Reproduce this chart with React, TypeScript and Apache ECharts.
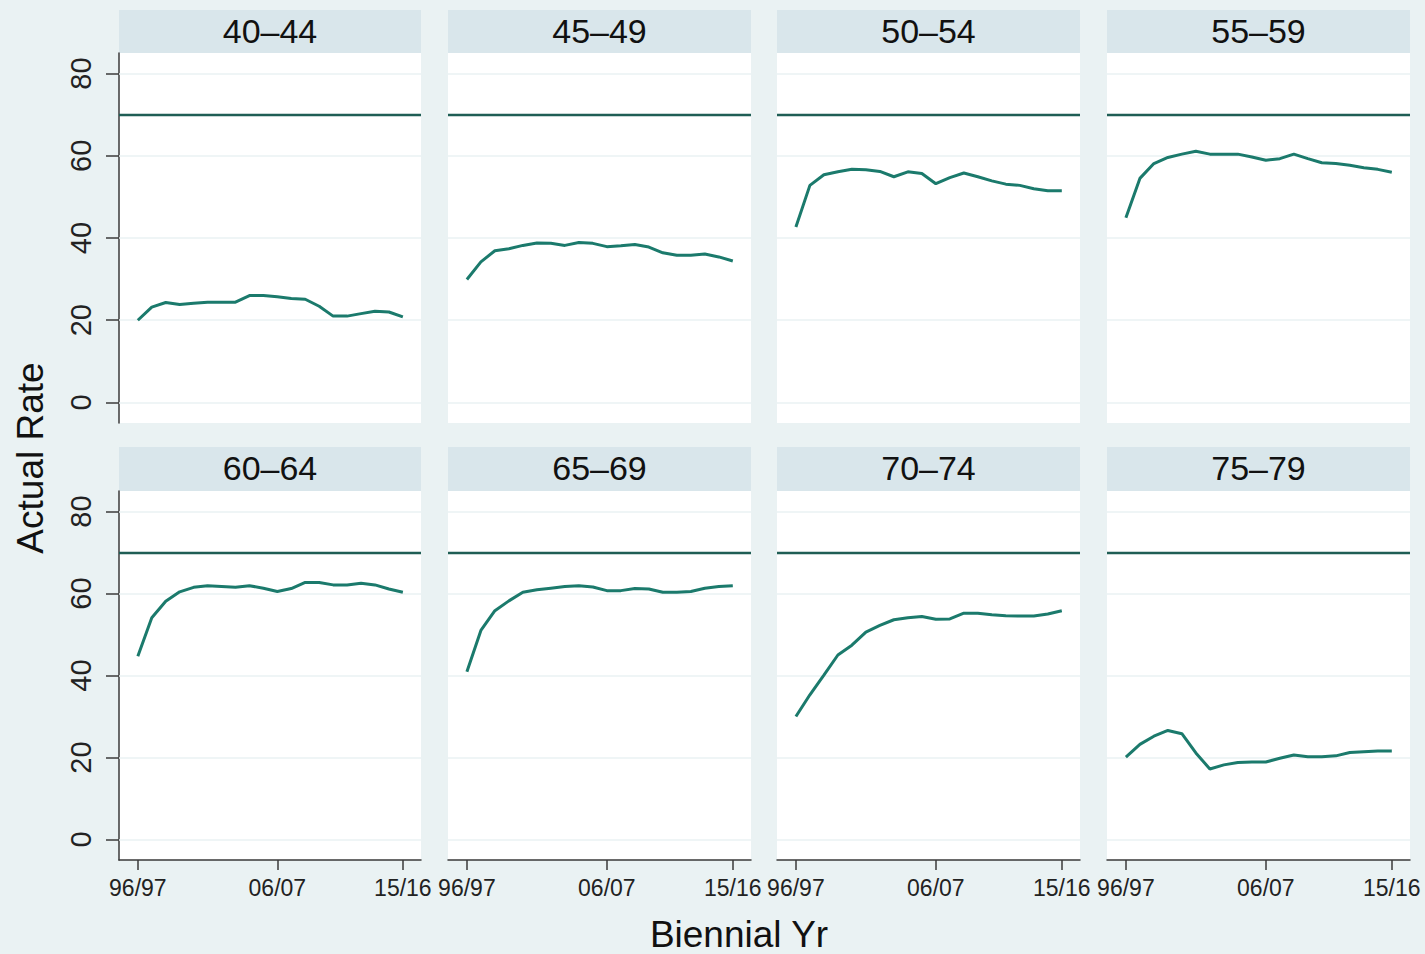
import React, { useEffect, useRef } from "react";
import * as echarts from "echarts";

const yearLabels = [
  "96/97", "97/98", "98/99", "99/00", "00/01", "01/02", "02/03", "03/04", "04/05", "05/06",
  "06/07", "07/08", "08/09", "09/10", "10/11", "11/12", "12/13", "13/14", "14/15", "15/16",
];
const xTickIndex = [0, 10, 19];
const yTicks = [0, 20, 40, 60, 80];
const referenceRate = 70;

const panelTitles = ["40–44", "45–49", "50–54", "55–59", "60–64", "65–69", "70–74", "75–79"];

const rate40to44 = [20.0, 23.2, 24.3, 23.8, 24.1, 24.4, 24.4, 24.4, 26.0, 26.0, 25.7, 25.3, 25.1, 23.4, 21.0, 21.0, 21.6, 22.2, 22.0, 20.8];
const rate45to49 = [29.9, 34.2, 36.9, 37.4, 38.2, 38.8, 38.7, 38.2, 38.9, 38.7, 37.9, 38.1, 38.4, 37.8, 36.4, 35.8, 35.8, 36.1, 35.4, 34.4];
const rate50to54 = [42.7, 52.8, 55.4, 56.1, 56.7, 56.6, 56.2, 54.9, 56.1, 55.7, 53.2, 54.7, 55.8, 54.9, 53.9, 53.1, 52.8, 52.0, 51.5, 51.5];
const rate55to59 = [44.9, 54.5, 58.1, 59.6, 60.4, 61.1, 60.4, 60.4, 60.4, 59.7, 58.9, 59.3, 60.4, 59.3, 58.3, 58.1, 57.7, 57.1, 56.7, 56.0];
const rate60to64 = [44.7, 54.1, 58.1, 60.4, 61.5, 61.9, 61.7, 61.5, 61.9, 61.3, 60.5, 61.2, 62.7, 62.7, 62.1, 62.1, 62.5, 62.1, 61.1, 60.3];
const rate65to69 = [40.9, 51.0, 55.8, 58.2, 60.3, 60.9, 61.3, 61.7, 61.9, 61.6, 60.7, 60.7, 61.2, 61.1, 60.3, 60.3, 60.5, 61.3, 61.7, 61.9];
const rate70to74 = [30.0, 35.3, 40.1, 45.0, 47.4, 50.6, 52.2, 53.6, 54.1, 54.4, 53.7, 53.8, 55.2, 55.2, 54.8, 54.6, 54.5, 54.5, 55.0, 55.8];
const rate75to79 = [20.1, 23.2, 25.2, 26.6, 25.8, 21.1, 17.2, 18.2, 18.8, 18.9, 18.9, 19.8, 20.6, 20.2, 20.2, 20.4, 21.2, 21.4, 21.6, 21.6];

const panelRates = [rate40to44, rate45to49, rate50to54, rate55to59, rate60to64, rate65to69, rate70to74, rate75to79];

const BG = "#EAF2F3";
const HEADER = "#D9E6EB";
const LINE = "#1B7A6C";
const REF = "#1F5E55";
const AXIS = "#3a3a3a";
const FONT = "'Liberation Sans', Arial, sans-serif";

const colLeft = [119, 448, 777, 1107];
const colWidth = 303;
const rowTop = [53, 491];
const rowHeight = [370, 369];
const headerTop = [10, 447];
const headerHeight = [43, 44];

export default function App() {
  const ref = useRef<HTMLDivElement>(null);

  useEffect(() => {
    if (!ref.current) return;
    const chart = echarts.init(ref.current, null, { renderer: "svg" });

    const grids: any[] = [];
    const xAxes: any[] = [];
    const yAxes: any[] = [];
    const series: any[] = [];
    const graphics: any[] = [];

    panelRates.forEach((rates, p) => {
      const row = Math.floor(p / 4);
      const col = p % 4;
      const left = colLeft[col];
      const top = rowTop[row];
      const w = col === 0 ? 302 : colWidth;
      grids.push({
        left,
        top,
        width: w,
        height: rowHeight[row],
        show: true,
        backgroundColor: "#ffffff",
        borderWidth: 0,
        containLabel: false,
      });
      const isBottom = row === 1;
      const isLeft = col === 0;
      xAxes.push({
        type: "value",
        gridIndex: p,
        min: -1.35,
        max: 20.3,
        axisLine: { show: isBottom, onZero: false, lineStyle: { color: AXIS, width: 1.5 } },
        axisTick: {
          show: isBottom,
          length: 10,
          customValues: xTickIndex,
          lineStyle: { color: AXIS, width: 1.5 },
        },
        axisLabel: {
          show: isBottom,
          customValues: xTickIndex,
          formatter: (v: number) => yearLabels[Math.round(v)] ?? "",
          fontFamily: FONT,
          fontSize: 23,
          color: "#222",
          margin: 16,
        },
        splitLine: { show: false },
      });
      yAxes.push({
        type: "value",
        gridIndex: p,
        min: -5,
        max: 85,
        axisLine: { show: isLeft, onZero: false, lineStyle: { color: AXIS, width: 1.5 } },
        axisTick: {
          show: isLeft,
          length: 13,
          customValues: yTicks,
          lineStyle: { color: AXIS, width: 1.5 },
        },
        axisLabel: {
          show: isLeft,
          customValues: yTicks,
          rotate: 90,
          fontFamily: FONT,
          fontSize: 29,
          color: "#222",
          margin: 24,
        },
        splitLine: { show: false },
      });
      series.push({
        type: "line",
        xAxisIndex: p,
        yAxisIndex: p,
        data: rates.map((v, i) => [i, v]),
        showSymbol: false,
        symbol: "none",
        lineStyle: { color: LINE, width: 3 },
        z: 5,
        markLine: {
          silent: true,
          symbol: "none",
          label: { show: false },
          animation: false,
          data: [
            ...yTicks.map((t) => ({ yAxis: t, lineStyle: { color: BG, width: 1.6, type: "solid" } })),
            { yAxis: referenceRate, lineStyle: { color: REF, width: 2.4, type: "solid" } },
          ],
        },
      });
      graphics.push({
        type: "rect",
        shape: { x: left, y: headerTop[row], width: w, height: headerHeight[row] },
        style: { fill: HEADER },
        silent: true,
      });
      graphics.push({
        type: "text",
        x: left + w / 2,
        y: headerTop[row] + headerHeight[row] / 2 - 1,
        style: {
          text: panelTitles[p],
          fontFamily: FONT,
          fontSize: 34,
          fill: "#111",
          align: "center",
          verticalAlign: "middle",
        },
        silent: true,
      });
    });

    graphics.push({
      type: "text",
      x: 30,
      y: 458,
      rotation: Math.PI / 2,
      style: {
        text: "Actual Rate",
        fontFamily: FONT,
        fontSize: 37,
        fill: "#111",
        align: "center",
        verticalAlign: "middle",
      },
      silent: true,
    });
    graphics.push({
      type: "text",
      x: 739,
      y: 934,
      style: {
        text: "Biennial Yr",
        fontFamily: FONT,
        fontSize: 37,
        fill: "#111",
        align: "center",
        verticalAlign: "middle",
      },
      silent: true,
    });

    chart.setOption({
      animation: false,
      backgroundColor: BG,
      grid: grids,
      xAxis: xAxes,
      yAxis: yAxes,
      series,
      graphic: graphics,
    });

    return () => chart.dispose();
  }, []);

  return (
    <div
      ref={ref}
      style={{ position: "absolute", left: 0, top: 0, width: 1425, height: 954 }}
    />
  );
}
